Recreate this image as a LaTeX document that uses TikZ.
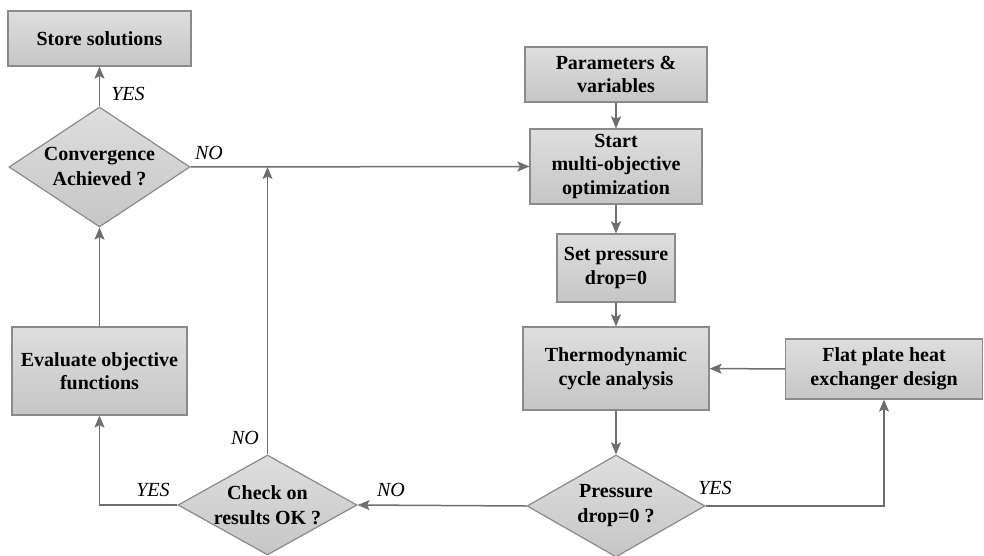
\documentclass[tikz,border=0pt]{standalone}
\usepackage{fontspec}
\setmainfont{Liberation Serif}
\usetikzlibrary{shapes.geometric,arrows.meta,calc}
\definecolor{edgegray}{HTML}{8A8A8A}
\definecolor{linegray}{HTML}{6E6E6E}
\definecolor{topgray}{HTML}{DEDEDE}
\definecolor{botgray}{HTML}{C6C6C6}
\tikzset{
  boxnode/.style={rectangle, draw=edgegray, line width=1.2pt, top color=topgray, bottom color=botgray,
    align=center, inner sep=0pt, font=\fontsize{20}{23.5}\selectfont\bfseries},
  decnode/.style={diamond, aspect=2, draw=edgegray, line width=1.2pt, top color=topgray, bottom color=botgray,
    align=center, inner sep=-8pt, font=\fontsize{20}{25}\selectfont\bfseries},
  conn/.style={draw=linegray, line width=1.5pt, -{Stealth[length=12pt,width=10pt,inset=2.5pt]}},
  lbl/.style={font=\fontsize{20}{22}\selectfont\itshape, inner sep=0pt}
}
\begin{document}
\begin{tikzpicture}[x=1pt,y=-1pt]
\useasboundingbox (0,0) rectangle (984,556);
\node[boxnode, minimum width=183, minimum height=55] (store) at (99.5,38.5) {Store solutions};
\node[decnode, minimum width=181, minimum height=120] (conv) at (99.5,167) {Convergence\\Achieved ?};
\node[boxnode, minimum width=175, minimum height=88] (eval) at (99.5,371) {Evaluate objective\\functions};
\node[decnode, minimum width=179, minimum height=100] (check) at (267.5,505) {Check on\\results OK ?};
\node[boxnode, minimum width=182, minimum height=55] (params) at (616,74.5) {Parameters \&\\variables};
\node[boxnode, minimum width=172, minimum height=75] (start) at (616,166.5) {Start\\multi-objective\\optimization};
\node[boxnode, minimum width=118, minimum height=68] (setp) at (616,268) {Set pressure\\drop=0};
\node[boxnode, minimum width=186, minimum height=83] (thermo) at (616,368.5) {Thermodynamic\\cycle analysis};
\node[boxnode, minimum width=197, minimum height=60] (flat) at (884,369) {Flat plate heat\\exchanger design};
\node[decnode, minimum width=178, minimum height=102] (press) at (616,506) {Pressure\\drop=0 ?};

\coordinate (j) at (check.north |- conv.east);
\coordinate (fcorner) at (flat.south |- press.east);
\coordinate (ecorner) at (eval.south |- check.west);

\draw[conn] (params) -- (start);
\draw[conn] (start) -- (setp);
\draw[conn] (setp) -- (thermo);
\draw[conn] (thermo) -- (press);
\draw[conn] (flat) -- (thermo);
\draw[conn] (press.east) -- (fcorner) -- (flat.south);
\draw[conn] (press.west) -- (check.east);
\draw[conn] (check.west) -- (ecorner) -- (eval.south);
\draw[conn] (check.north) -- (j);
\draw[conn] (eval) -- (conv);
\draw[conn] (conv.east) -- (start.west);
\draw[conn] (conv) -- (store);

\node[lbl] (l1) at (128,94) {YES};
\node[lbl] (l2) at (209,153) {NO};
\node[lbl] (l3) at (245,438) {NO};
\node[lbl] (l4) at (153,490) {YES};
\node[lbl] (l5) at (391,490) {NO};
\node[lbl] (l6) at (715,488) {YES};
\end{tikzpicture}
\end{document}
